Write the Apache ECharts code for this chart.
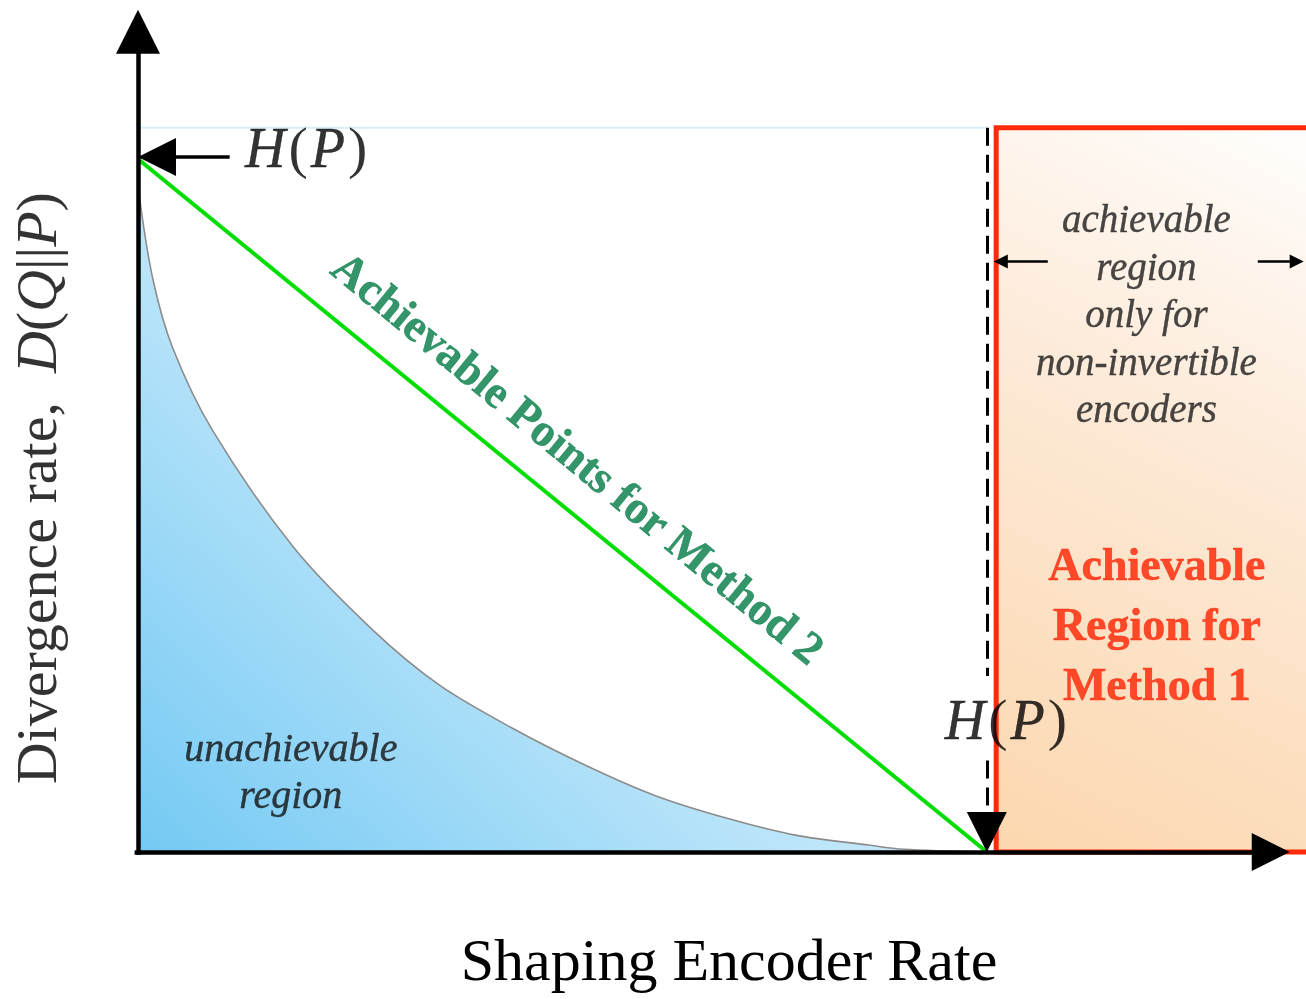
<!DOCTYPE html>
<html>
<head>
<meta charset="utf-8">
<script src="https://cdn.jsdelivr.net/npm/echarts@6/dist/echarts.min.js"></script>
<style>
html,body{margin:0;padding:0;background:#fff;}
#chart{width:1306px;height:999px;}
</style>
</head>
<body>
<div id="chart"></div>
<script>
// ---------- data (H(P) = 1 on both axes) ----------
const X_MAX = 1.376;          // right end of the drawing area
const Y_MAX = 1.215;          // top end of the drawing area
const HP = 1;                 // H(P)
const TOP = 1.045;            // top of the achievable-region box
const REGION_X0 = 1.011;      // left border of Method 1 region

// boundary of the unachievable region
const curveX = [0, 0.002, 0.018, 0.041, 0.088, 0.183, 0.276, 0.356, 0.439, 0.524, 0.608, 0.693, 0.776, 0.861, 0.902, 1.0];
const curveY = [0.99, 0.943, 0.824, 0.727, 0.608, 0.440, 0.321, 0.240, 0.180, 0.127, 0.082, 0.049, 0.024, 0.010, 0.004, 0];

// Method 2 achievable points: straight line from (0,H(P)) to (H(P),0)
const method2X = [0, HP];
const method2Y = [HP, 0];

// axis / annotation arrows [from, to]
const xAxisArrow = [[-0.004, 0], [1.3345, 0]];
const yAxisArrow = [[0, -0.004], [0, 1.1836]];
const hpArrow = [[0.108, 1.003], [0.0224, 1.003]];
const dashTop = [[HP, TOP], [HP, 0.254]];
const dashBottom = [[HP, 0.132], [HP, 0.0287]];
const spanLeft = [[1.0718, 0.852], [1.0165, 0.852]];
const spanRight = [[1.3192, 0.852], [1.3650, 0.852]];

// text anchors
const labelHP1 = [0.126, 1.010];
const labelHP2 = [0.9505, 0.185];
const labelMethod2 = [0.516, 0.565];
const labelMethod1 = [1.2003, 0.323];
const labelNonInv = [1.188, 0.772];
const labelUnach = [0.180, 0.113];
const labelYAxis = [-0.114, 0.525];

const FONT = 'Liberation Serif';

const chart = echarts.init(document.getElementById('chart'), null, {renderer: 'canvas'});

function arrowSeries(coords, size, width, extra) {
  return Object.assign({
    type: 'lines',
    coordinateSystem: 'cartesian2d',
    silent: true,
    clip: false,
    data: [{coords: coords}],
    symbol: ['none', 'triangle'],
    symbolSize: size,
    lineStyle: {color: '#000', width: width, opacity: 1, curveness: 0},
    z: 10
  }, extra || {});
}

function textPoint(pos, label, z) {
  return {
    type: 'scatter',
    silent: true,
    clip: false,
    symbol: 'circle',
    symbolSize: 1,
    itemStyle: {color: 'rgba(0,0,0,0)'},
    z: z || 20,
    data: [pos],
    label: Object.assign({show: true, position: 'inside', fontFamily: FONT}, label),
    emphasis: {disabled: true}
  };
}

const hpRich = {
  i: {fontFamily: FONT, fontStyle: 'italic', fontSize: 56, color: '#000', textBorderColor: '#000', textBorderWidth: 0.4},
  u: {fontFamily: FONT, fontSize: 58, color: '#000', padding: [0, 3, 0, 3]}
};

const option = {
  animation: false,
  backgroundColor: '#ffffff',
  grid: {left: 138, right: 0, top: 10, bottom: 142, containLabel: false},
  xAxis: {
    type: 'value', min: 0, max: X_MAX,
    axisLine: {show: false}, axisTick: {show: false}, axisLabel: {show: false}, splitLine: {show: false},
    name: 'Shaping Encoder Rate', nameLocation: 'middle', nameGap: 82,
    nameTextStyle: {fontFamily: FONT, fontSize: 60, color: '#000', padding: [0, 0, 0, 14]}
  },
  yAxis: {
    type: 'value', min: 0, max: Y_MAX,
    axisLine: {show: false}, axisTick: {show: false}, axisLabel: {show: false}, splitLine: {show: false}
  },
  series: [
    // Method 1 achievable region
    {
      type: 'custom',
      silent: true,
      clip: false,
      z: 1,
      encode: {x: [0, 2], y: [1, 3]},
      data: [[REGION_X0, 0, X_MAX + 0.05, TOP]],
      renderItem: function (params, api) {
        const p0 = api.coord([api.value(0), api.value(1)]);
        const p1 = api.coord([api.value(2), api.value(3)]);
        return {
          type: 'rect',
          shape: {x: p0[0], y: p1[1], width: p1[0] - p0[0], height: p0[1] - p1[1]},
          style: {
            fill: new echarts.graphic.LinearGradient(1, 0, 0, 1, [
              {offset: 0, color: '#ffffff'},
              {offset: 0.45, color: '#fde9d6'},
              {offset: 1, color: '#fcd7ae'}
            ]),
            stroke: '#ff2a0a',
            lineWidth: 5
          }
        };
      }
    },
    // faint top line
    {
      type: 'line', silent: true, z: 2, symbol: 'none',
      data: [[0, TOP], [HP, TOP]],
      lineStyle: {color: '#d9edfa', width: 2}
    },
    // unachievable region
    {
      type: 'line', silent: true, z: 3, symbol: 'none',
      smooth: 0.3,
      data: curveX.map((x, i) => [x, curveY[i]]),
      lineStyle: {color: '#8c8c8c', width: 1.6},
      areaStyle: {
        opacity: 1,
        color: new echarts.graphic.LinearGradient(0, 1, 0.6, 0.2, [
          {offset: 0, color: '#74c9f4'},
          {offset: 0.55, color: '#b6e3f9'},
          {offset: 1, color: '#e2f4fd'}
        ])
      }
    },
    // Method 2 line
    {
      type: 'line', silent: true, z: 5, symbol: 'none',
      data: method2X.map((x, i) => [x, method2Y[i]]),
      lineStyle: {color: '#00dd00', width: 4}
    },
    // dashed H(P) marker
    arrowSeries(dashTop, 1, 3, {symbol: ['none', 'none'], lineStyle: {color: '#000', width: 3, opacity: 1, type: [18, 9]}, z: 6}),
    arrowSeries(dashBottom, [26, 40], 3, {lineStyle: {color: '#000', width: 3, opacity: 1, type: [18, 9]}, z: 6}),
    // axes
    arrowSeries(xAxisArrow, [32, 38], 4.5, {z: 12}),
    arrowSeries(yAxisArrow, [34, 44], 4.5, {z: 12}),
    // H(P) pointer on y axis
    arrowSeries(hpArrow, [28, 38], 3.5, {z: 13}),
    // span arrows inside Method 1 region
    arrowSeries(spanLeft, [12, 14], 2.5, {z: 13}),
    arrowSeries(spanRight, [12, 14], 2.5, {z: 13}),

    // ---------- texts ----------
    textPoint(labelHP1, {
      align: 'left', verticalAlign: 'middle',
      formatter: '{i|H}{u|(}{i|P}{u|)}',
      rich: hpRich
    }),
    textPoint(labelHP2, {
      align: 'left', verticalAlign: 'middle',
      formatter: '{i|H}{u|(}{i|P}{u|)}',
      rich: hpRich
    }),
    textPoint(labelMethod2, {
      formatter: 'Achievable Points for Method 2',
      rotate: -39.4,
      fontSize: 46, fontWeight: 'bold', color: '#007a44',
      textBorderColor: '#007a44', textBorderWidth: 0.5
    }),
    textPoint(labelMethod1, {
      formatter: 'Achievable\nRegion for\nMethod 1',
      fontSize: 46, fontWeight: 'bold', color: '#ff2200', lineHeight: 60, align: 'center',
      textBorderColor: '#ff2200', textBorderWidth: 0.5
    }),
    textPoint(labelNonInv, {
      formatter: 'achievable\nregion\nonly for\nnon-invertible\nencoders',
      fontSize: 39, fontStyle: 'italic', color: '#1a1a1a', lineHeight: 47.5, align: 'center',
      textBorderColor: '#1a1a1a', textBorderWidth: 0.4
    }),
    textPoint(labelUnach, {
      formatter: 'unachievable\nregion',
      fontSize: 40, fontStyle: 'italic', color: '#111', lineHeight: 47, align: 'center',
      textBorderColor: '#111', textBorderWidth: 0.4
    }),
    textPoint(labelYAxis, {
      rotate: 90,
      formatter: 'Divergence rate,  {i|D}({i|Q}||{i|P})',
      fontSize: 58, color: '#000',
      rich: {
        i: {fontFamily: FONT, fontStyle: 'italic', fontSize: 58, color: '#000'}
      }
    })
  ]
};

chart.setOption(option);
</script>
</body>
</html>
